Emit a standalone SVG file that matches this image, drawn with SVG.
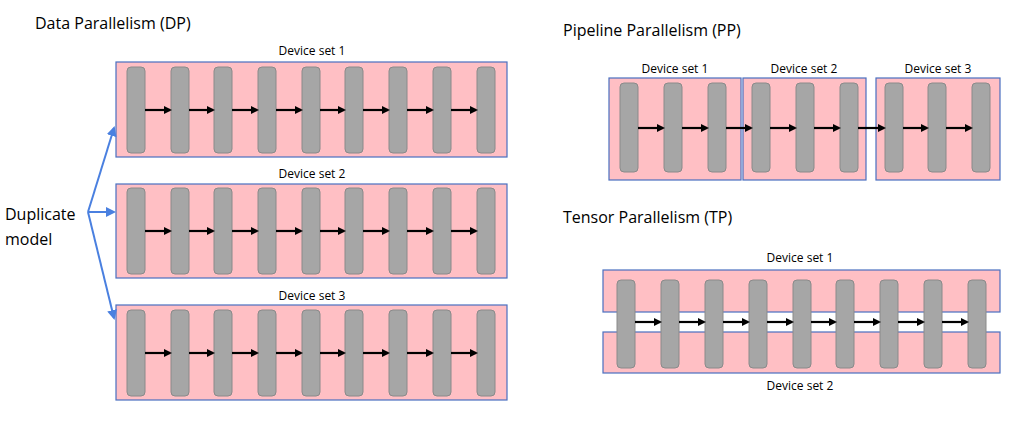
<svg xmlns="http://www.w3.org/2000/svg" width="1022" height="426" viewBox="0 0 1022 426">
<style>
text{font-family:"Open Sans","Liberation Sans",sans-serif;fill:#000}
.t{font-size:16px}
.l{font-size:12px;text-anchor:middle}
.box{fill:#ffbfc4;stroke:#4a6fc0;stroke-width:1.2}
.bar{fill:#a6a6a6;stroke:#8a8a8a;stroke-width:1}
.ar{stroke:#000;stroke-width:2.2;marker-end:url(#a)}
.bl{stroke:#4a80e0;stroke-width:2;fill:none;marker-end:url(#b)}
</style>
<defs>
<marker id="a" markerWidth="8" markerHeight="8" refX="6" refY="4" orient="auto" markerUnits="userSpaceOnUse"><path d="M0,0L8,4L0,8z" fill="#000"/></marker>
<marker id="b" markerWidth="10" markerHeight="10" refX="8" refY="5" orient="auto" markerUnits="userSpaceOnUse"><path d="M0,0L10,5L0,10z" fill="#4a80e0"/></marker>
<g id="row"><rect class="bar" x="127" width="18" height="86" rx="4"/><rect class="bar" x="171" width="18" height="86" rx="4"/><rect class="bar" x="214" width="18" height="86" rx="4"/><rect class="bar" x="258" width="18" height="86" rx="4"/><rect class="bar" x="302" width="18" height="86" rx="4"/><rect class="bar" x="345" width="18" height="86" rx="4"/><rect class="bar" x="389" width="18" height="86" rx="4"/><rect class="bar" x="433" width="18" height="86" rx="4"/><rect class="bar" x="477" width="18" height="86" rx="4"/>
<g class="ar"><line x1="145" y1="43" x2="170" y2="43"/><line x1="189" y1="43" x2="213" y2="43"/><line x1="232" y1="43" x2="257" y2="43"/><line x1="276" y1="43" x2="301" y2="43"/><line x1="320" y1="43" x2="344" y2="43"/><line x1="363" y1="43" x2="388" y2="43"/><line x1="407" y1="43" x2="432" y2="43"/><line x1="451" y1="43" x2="476" y2="43"/></g></g>
</defs>
<text class="t" x="35" y="29">Data Parallelism (DP)</text>
<text class="t" x="563" y="36">Pipeline Parallelism (PP)</text>
<text class="t" x="563" y="223">Tensor Parallelism (TP)</text>
<g id="dp1"><text class="l" x="312" y="55">Device set 1</text><rect class="box" x="116" y="62" width="391" height="95"/><use href="#row" y="67"/></g>
<g id="dp2"><text class="l" x="312" y="178">Device set 2</text><rect class="box" x="116" y="184" width="391" height="94"/><use href="#row" y="188"/></g>
<g id="dp3"><text class="l" x="312" y="300">Device set 3</text><rect class="box" x="116" y="305" width="391" height="95"/><use href="#row" y="310"/></g>
<g id="dup"><text class="t" x="5" y="220">Duplicate</text><text class="t" x="5" y="245">model</text></g>
<g id="pp1"><text class="l" x="675" y="73">Device set 1</text><rect class="box" x="609" y="78" width="132" height="102"/></g>
<g id="pp2"><text class="l" x="804" y="73">Device set 2</text><rect class="box" x="743" y="78" width="123" height="102"/></g>
<g id="pp3"><text class="l" x="938" y="73">Device set 3</text><rect class="box" x="876" y="78" width="124" height="102"/></g>
<g id="ppbars"><rect class="bar" x="620" y="83" width="18" height="89" rx="4"/><rect class="bar" x="664" y="83" width="18" height="89" rx="4"/><rect class="bar" x="708" y="83" width="18" height="89" rx="4"/><rect class="bar" x="752" y="83" width="18" height="89" rx="4"/><rect class="bar" x="796" y="83" width="18" height="89" rx="4"/><rect class="bar" x="840" y="83" width="18" height="89" rx="4"/><rect class="bar" x="885" y="83" width="18" height="89" rx="4"/><rect class="bar" x="928" y="83" width="18" height="89" rx="4"/><rect class="bar" x="972" y="83" width="18" height="89" rx="4"/></g>
<g id="tp1"><text class="l" x="800" y="262">Device set 1</text><rect class="box" x="603" y="270" width="397" height="42"/></g>
<g id="tp2"><text class="l" x="800" y="390">Device set 2</text><rect class="box" x="603" y="332" width="397" height="41"/></g>
<rect x="602" y="313" width="399" height="18" fill="#fff"/>
<g id="tpbars"><rect class="bar" x="617" y="280" width="18" height="88" rx="4"/><rect class="bar" x="661" y="280" width="18" height="88" rx="4"/><rect class="bar" x="705" y="280" width="18" height="88" rx="4"/><rect class="bar" x="749" y="280" width="18" height="88" rx="4"/><rect class="bar" x="793" y="280" width="18" height="88" rx="4"/><rect class="bar" x="836" y="280" width="18" height="88" rx="4"/><rect class="bar" x="880" y="280" width="18" height="88" rx="4"/><rect class="bar" x="924" y="280" width="18" height="88" rx="4"/><rect class="bar" x="968" y="280" width="18" height="88" rx="4"/></g>
<g id="connectors">
<path class="bl" d="M88,212L114,128"/><path class="bl" d="M88,212L114,212"/><path class="bl" d="M88,212L114,318"/>
<g class="ar"><line x1="638" y1="128" x2="663" y2="128"/><line x1="682" y1="128" x2="707" y2="128"/><line x1="726" y1="128" x2="751" y2="128"/><line x1="770" y1="128" x2="795" y2="128"/><line x1="814" y1="128" x2="839" y2="128"/><line x1="858" y1="128" x2="884" y2="128"/><line x1="903" y1="128" x2="927" y2="128"/><line x1="946" y1="128" x2="971" y2="128"/>
<line x1="635" y1="322" x2="660" y2="322"/><line x1="679" y1="322" x2="704" y2="322"/><line x1="723" y1="322" x2="748" y2="322"/><line x1="767" y1="322" x2="792" y2="322"/><line x1="811" y1="322" x2="835" y2="322"/><line x1="854" y1="322" x2="879" y2="322"/><line x1="898" y1="322" x2="923" y2="322"/><line x1="942" y1="322" x2="967" y2="322"/></g>
</g>
</svg>
